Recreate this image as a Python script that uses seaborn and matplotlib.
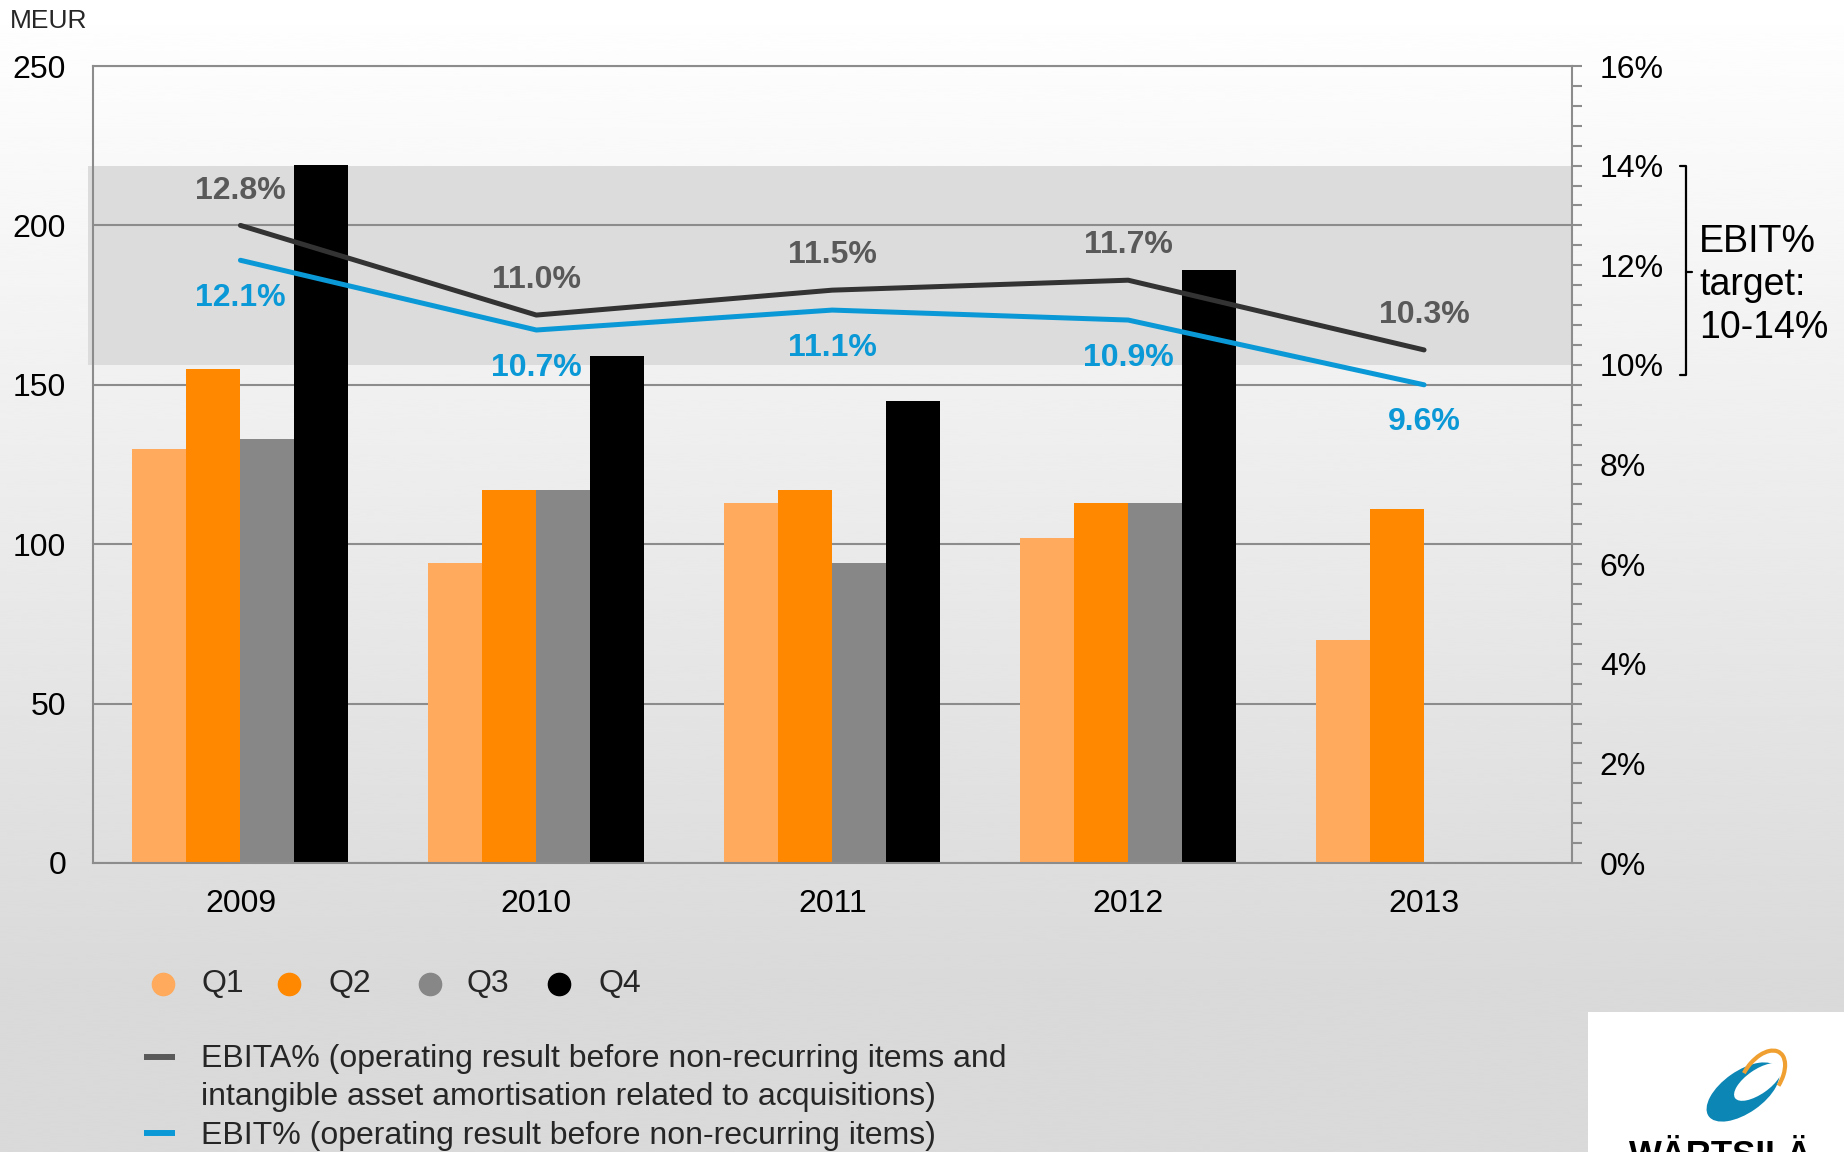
import numpy as np
import pandas as pd
import matplotlib
matplotlib.use("Agg")
import matplotlib.pyplot as plt
import seaborn as sns
from matplotlib.lines import Line2D
from matplotlib.patches import Ellipse, Arc, Rectangle
from matplotlib.ticker import MultipleLocator, FuncFormatter
from matplotlib.transforms import blended_transform_factory

# data
years = ["2009", "2010", "2011", "2012", "2013"]
quarters = ["Q1", "Q2", "Q3", "Q4"]
q1 = [130, 94, 113, 102, 70]
q2 = [155, 117, 117, 113, 111]
q3 = [133, 117, 94, 113, np.nan]
q4 = [219, 159, 145, 186, np.nan]
ebita_pct = [12.8, 11.0, 11.5, 11.7, 10.3]
ebit_pct = [12.1, 10.7, 11.1, 10.9, 9.6]
target_low, target_high = 10, 14

quarter_colors = {"Q1": "#FFAA5C", "Q2": "#FF8800", "Q3": "#878787", "Q4": "#000000"}
ebita_color = "#333333"
ebita_label_color = "#595959"
ebit_color = "#0A99D6"
grid_color = "#8C8C8C"

sns.set_theme(style="white")
plt.rcParams["font.family"] = ["Liberation Sans", "DejaVu Sans"]

W, H, DPI = 1844, 1152, 100
fig = plt.figure(figsize=(W / DPI, H / DPI), dpi=DPI)

# background gradient (white at top, light grey towards the bottom)
bg = fig.add_axes([0, 0, 1, 1], zorder=-10)
t = np.linspace(0, 1, 400)
shade = np.where(t < 0.85, 255 - (255 - 218) * t / 0.85, 218)
bg.imshow(shade[:, None], extent=[0, 1, 0, 1], aspect="auto", cmap="gray",
          vmin=0, vmax=255, interpolation="bicubic")
bg.set_axis_off()

ax = fig.add_axes([92.5 / W, 1 - 863 / H, (1572 - 92.5) / W, (863 - 66) / H])
ax.set_facecolor("none")

df = pd.DataFrame({
    "year": np.repeat(years, len(quarters)),
    "quarter": quarters * len(years),
    "value": np.column_stack([q1, q2, q3, q4]).ravel(),
}).dropna()

# target band 10-14 % (left axis 0-250 maps to right axis 0-16 %)
ax.axhspan(target_low / 16 * 250, target_high / 16 * 250, xmin=-0.003, xmax=1,
           color="#DCDCDC", zorder=0.1, lw=0, clip_on=False)

sns.barplot(data=df, x="year", y="value", hue="quarter", order=years,
            hue_order=quarters, palette=quarter_colors, width=0.73, gap=0,
            saturation=1, errorbar=None, legend=False, ax=ax, zorder=2,
            linewidth=0, edgecolor="none")

ax.set_ylim(0, 250)
ax.set_yticks(np.arange(0, 251, 50))
ax.set_xlim(-0.5, len(years) - 0.5)
ax.set_xlabel("")
ax.set_ylabel("")
ax.set_axisbelow(True)
ax.yaxis.grid(True, color=grid_color, lw=1.5)
ax.xaxis.grid(False)
for side in ["left", "bottom", "top"]:
    ax.spines[side].set_color(grid_color)
    ax.spines[side].set_linewidth(1.5)
ax.spines["right"].set_visible(False)
ax.tick_params(axis="y", length=0, pad=19, labelsize=23, labelcolor="black")
ax.tick_params(axis="x", length=0, pad=19, labelsize=23, labelcolor="black")

# percentage lines on the right axis
ax2 = ax.twinx()
ax2.set_facecolor("none")
xpos = np.arange(len(years))
sns.lineplot(x=xpos, y=ebita_pct, ax=ax2, color=ebita_color, lw=3.6,
             solid_capstyle="round")
sns.lineplot(x=xpos, y=ebit_pct, ax=ax2, color=ebit_color, lw=3.6,
             solid_capstyle="round")
ax2.set_xlim(-0.5, len(years) - 0.5)
ax2.set_ylim(0, 16)
ax2.yaxis.set_major_locator(MultipleLocator(2))
ax2.yaxis.set_minor_locator(MultipleLocator(0.4))
ax2.yaxis.set_major_formatter(FuncFormatter(lambda v, p: f"{v:.0f}%"))
ax2.tick_params(axis="y", which="both", direction="out", length=7, width=1.5,
                color=grid_color, pad=13, labelsize=23, labelcolor="black")
for side in ["left", "bottom", "top"]:
    ax2.spines[side].set_visible(False)
ax2.spines["right"].set_color(grid_color)
ax2.spines["right"].set_linewidth(1.5)

for x, v in zip(xpos, ebita_pct):
    ax2.annotate(f"{v:.1f}%", (x, v), xytext=(0, 25), textcoords="offset points",
                 ha="center", va="center", fontsize=23, fontweight="bold",
                 color=ebita_label_color)
for x, v in zip(xpos, ebit_pct):
    ax2.annotate(f"{v:.1f}%", (x, v), xytext=(0, -27), textcoords="offset points",
                 ha="center", va="center", fontsize=23, fontweight="bold",
                 color=ebit_color)

# target bracket and text
tr = blended_transform_factory(ax2.transAxes, ax2.transData)
bx = (1686 - 92.5) / (1572 - 92.5)
hook = 6 / (1572 - 92.5)
bracket_top, bracket_bot, bracket_mid = 14.0, 9.8, 11.87
ax2.add_line(Line2D([bx - hook, bx, bx, bx - hook],
                    [bracket_top, bracket_top, bracket_bot, bracket_bot],
                    transform=tr, color="black", lw=1.6, clip_on=False))
ax2.add_line(Line2D([bx, bx + hook], [bracket_mid, bracket_mid],
                    transform=tr, color="black", lw=1.6, clip_on=False))
ax2.text((1699 - 92.5) / (1572 - 92.5), 11.6, "EBIT%\ntarget:\n10-14%",
         transform=tr, ha="left", va="center", fontsize=27, linespacing=1.25,
         color="black")

fig.text(10 / W, 1 - 21 / H, "MEUR", ha="left", va="center", fontsize=19)

# quarter legend
q_marker_x = [163, 289, 430, 559]
q_text_x = [201, 328, 466, 598]
q_y = 984
for q, mx, tx in zip(quarters, q_marker_x, q_text_x):
    fig.add_artist(Line2D([mx / W], [1 - q_y / H], marker="o", markersize=16,
                          color=quarter_colors[q], lw=0, transform=fig.transFigure))
    fig.text(tx / W, 1 - q_y / H, q, ha="left", va="center", fontsize=23)

# line legend
fig.add_artist(Line2D([144 / W, 175 / W], [1 - 1057 / H] * 2, color=ebita_label_color,
                      lw=4.3, transform=fig.transFigure, solid_capstyle="butt"))
fig.add_artist(Line2D([144 / W, 175 / W], [1 - 1133 / H] * 2, color=ebit_color,
                      lw=4.3, transform=fig.transFigure, solid_capstyle="butt"))
legend_lines = [
    ("EBITA% (operating result before non-recurring items and", 1059),
    ("intangible asset amortisation related to acquisitions)", 1097),
    ("EBIT% (operating result before non-recurring items)", 1136),
]
for txt, y in legend_lines:
    fig.text(201 / W, 1 - y / H, txt, ha="left", va="center", fontsize=23)

# logo box
fig.add_artist(Rectangle((1588 / W, 0), (W - 1588) / W, (H - 1012) / H,
                         transform=fig.transFigure, facecolor="white", edgecolor="none"))
inch = fig.dpi_scale_trans
fig.add_artist(Ellipse((17.43, (H - 1092) / DPI), 0.84, 0.42, angle=35,
                       transform=inch, facecolor="#0B86B5", edgecolor="none"))
fig.add_artist(Ellipse((17.58, (H - 1082) / DPI), 0.56, 0.24, angle=35,
                       transform=inch, facecolor="white", edgecolor="none"))
fig.add_artist(Arc((17.62, (H - 1078) / DPI), 0.62, 0.36, angle=55,
                   theta1=-80, theta2=110, transform=inch, color="#F0A030", lw=3))
fig.text(17.21, (H - 1165) / DPI, "WÄRTSILÄ", transform=inch, ha="center",
         va="baseline", fontsize=25, fontweight="bold", color="black")

fig.savefig("out.png", dpi=DPI)
